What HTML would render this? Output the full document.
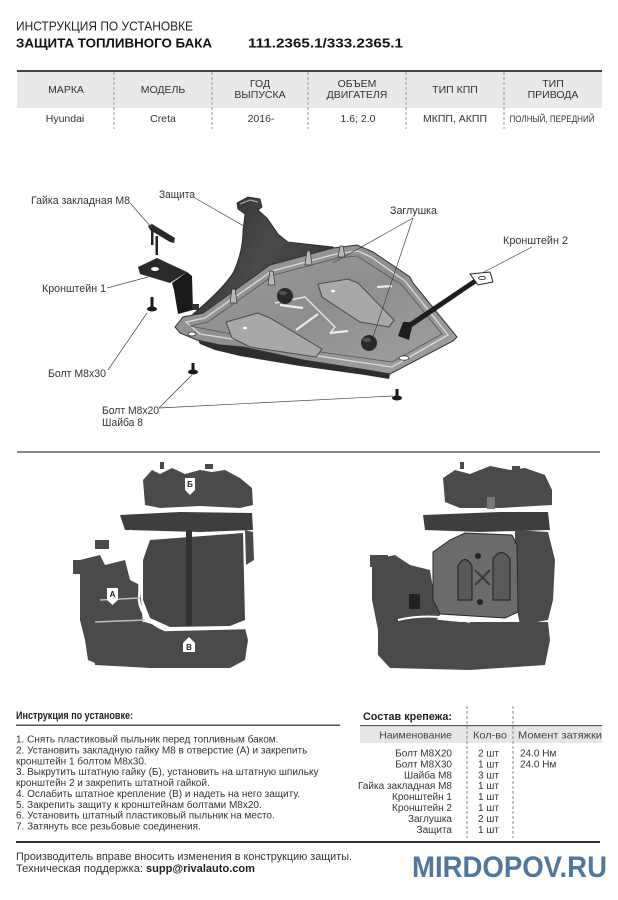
<!DOCTYPE html>
<html><head><meta charset="utf-8"><style>
html,body{margin:0;padding:0;background:#fff;}
svg{display:block;}
text{font-family:"Liberation Sans",sans-serif;}
</style></head><body>
<svg width="618" height="900" viewBox="0 0 618 900" xmlns="http://www.w3.org/2000/svg">
<rect width="618" height="900" fill="#fff"/>
<defs>
<linearGradient id="wallG" x1="0" y1="0" x2="1" y2="0.4">
<stop offset="0" stop-color="#2a2a2a"/><stop offset="0.6" stop-color="#4a4a4a"/><stop offset="1" stop-color="#3a3a3a"/>
</linearGradient>
<linearGradient id="plateG" x1="0" y1="0" x2="1" y2="1">
<stop offset="0" stop-color="#9c9c9c"/><stop offset="0.5" stop-color="#8e8e8e"/><stop offset="1" stop-color="#a2a2a2"/>
</linearGradient>
</defs>

<!-- HEADER -->
<text x="16" y="30.5" font-size="12.5" fill="#222" textLength="177" lengthAdjust="spacingAndGlyphs">ИНСТРУКЦИЯ ПО УСТАНОВКЕ</text>
<text x="16" y="47.5" font-size="13" font-weight="bold" fill="#111" textLength="196" lengthAdjust="spacingAndGlyphs">ЗАЩИТА ТОПЛИВНОГО БАКА</text>
<text x="248" y="47.5" font-size="13" font-weight="bold" fill="#111" textLength="155" lengthAdjust="spacingAndGlyphs">111.2365.1/333.2365.1</text>

<rect x="17" y="72" width="585" height="36" fill="#e9e9e9"/>
<rect x="17" y="70" width="585" height="2" fill="#444"/>
<g stroke="#999" stroke-width="1" stroke-dasharray="3 2">
<line x1="114" y1="72" x2="114" y2="129"/>
<line x1="212" y1="72" x2="212" y2="129"/>
<line x1="308" y1="72" x2="308" y2="129"/>
<line x1="406" y1="72" x2="406" y2="129"/>
<line x1="504" y1="72" x2="504" y2="129"/>
</g>
<g font-size="10.5" fill="#333" text-anchor="middle">
<text x="66" y="93">МАРКА</text>
<text x="163" y="93">МОДЕЛЬ</text>
<text x="260" y="87">ГОД</text>
<text x="260" y="98">ВЫПУСКА</text>
<text x="357" y="87">ОБЪЕМ</text>
<text x="357" y="98">ДВИГАТЕЛЯ</text>
<text x="455" y="93">ТИП КПП</text>
<text x="553" y="87">ТИП</text>
<text x="553" y="98">ПРИВОДА</text>
<text x="65" y="122">Hyundai</text>
<text x="163" y="122">Creta</text>
<text x="261" y="122">2016-</text>
<text x="358" y="122">1.6; 2.0</text>
<text x="455" y="122">МКПП, АКПП</text>
<text x="552" y="122" font-size="9.5" textLength="85" lengthAdjust="spacingAndGlyphs">ПОЛНЫЙ, ПЕРЕДНИЙ</text>
</g>

<!-- DIAGRAM -->
<path d="M237,203 L248,197 L260,199 L262,207 L258,210 L267,218 L278,234 L288,242 L333,247 L336,252 L270,266 L203,313 L193,314 Q222,290 233,273 Q243,252 243,230 L245,214 L238,209 Z" fill="url(#wallG)" stroke="#222" stroke-width="0.8"/>
<path d="M240,204 L250,200 L258,202" stroke="#aaa" stroke-width="1.2" fill="none"/>
<path d="M198,340 L243,347 L303,360 L367,370 L390,374 L389,379 L365,375 L300,366 L240,356 L215,350 L200,344 Z" fill="#2e2e2e"/>
<path d="M175,327 L183,317 L203,313 L270,265 L333,248 L342,247 L357,245 L373,252 L410,277 L413,283 L457,337 L453,341 L390,374 L367,370 L303,360 L243,347 L220,345 L197,340 L180,333 Z" fill="url(#plateG)" stroke="#333" stroke-width="1"/>
<path d="M186,322 L205,318 L272,271 L336,254 L358,251 L371,257 L405,281 L448,335 L392,367 L305,354 L245,341 L200,334 Z" fill="none" stroke="#dcdcdc" stroke-width="1.3"/>
<path d="M190,326 L208,322 L274,275 L338,258 L357,256 L402,285 L442,334 L392,362 L306,350 L247,337 Z" fill="none" stroke="#555" stroke-width="0.8"/>
<path d="M226,322 L258,313 L270,318 L322,349 L316,357 L250,347 L232,338 Z" fill="#a8a8a8" stroke="#4a4a4a" stroke-width="1"/>
<path d="M318,284 L348,279 L358,283 L394,320 L389,327 L360,322 L322,297 Z" fill="#a8a8a8" stroke="#4a4a4a" stroke-width="1"/>
<path d="M275,303 L305,297 L335,327 L330,333" fill="none" stroke="#e2e2e2" stroke-width="1.5"/>
<path d="M280,305 L303,308 M330,333 L348,331 M377,287 L392,286 M296,330 L318,314" stroke="#ececec" stroke-width="2.2"/>
<ellipse cx="245" cy="328" rx="2" ry="1.3" fill="#fff"/>
<ellipse cx="333" cy="291" rx="2" ry="1.3" fill="#fff"/>
<ellipse cx="192" cy="334" rx="4" ry="2" fill="#fff" stroke="#333" stroke-width="0.8"/>
<ellipse cx="404" cy="358" rx="5" ry="2.2" fill="#fff" stroke="#333" stroke-width="0.8"/>
<g fill="#b8b8b8" stroke="#333" stroke-width="0.7">
<path d="M230,303 L232,289 L235,289 L237,303 Z"/>
<path d="M268,285 L270,271 L273,271 L275,285 Z"/>
<path d="M305,265 L307,251 L310,251 L312,265 Z"/>
<path d="M338,257 L340,246 L343,246 L345,257 Z"/>
</g>
<circle cx="285" cy="296" r="8" fill="#2a2a2a"/>
<ellipse cx="283" cy="293" rx="4" ry="2" fill="#555"/>
<circle cx="369" cy="343" r="8" fill="#2a2a2a"/>
<ellipse cx="367" cy="340" rx="4" ry="2" fill="#555"/>
<path d="M398,336 L403,322 L410,322 L474,279 L478,282 L412,327 L409,340 Z" fill="#1e1e1e"/>
<path d="M470,274 L490,272 L493,282 L478,285 Z" fill="#fff" stroke="#222" stroke-width="1"/>
<ellipse cx="482" cy="278" rx="3.5" ry="1.6" fill="#fff" stroke="#222" stroke-width="0.8"/>
<path d="M138,267 L157,258 L187,272 L170,283 L140,274 Z" fill="#2a2a2a"/>
<ellipse cx="155" cy="269" rx="4" ry="2" fill="#fff"/>
<path d="M172,283 L187,272 L192,276 L193,310 L178,314 L174,290 Z" fill="#1a1a1a"/>
<rect x="192" y="304" width="7" height="6" fill="#333"/>
<path d="M148,226 L152,224 L175,238 L174,243 L170,242 L150,230 Z" fill="#2a2a2a"/>
<rect x="151" y="229" width="2.5" height="16" fill="#222"/>
<rect x="155.5" y="236" width="2.5" height="19" fill="#222"/>
<g fill="#1a1a1a">
<rect x="150.5" y="297" width="3" height="11"/><ellipse cx="152" cy="309" rx="5" ry="2.5"/>
<rect x="191.5" y="363" width="3" height="9"/><ellipse cx="193" cy="372" rx="5" ry="2.5"/>
<rect x="395.5" y="389" width="3" height="9"/><ellipse cx="397" cy="398" rx="5" ry="2.5"/>
</g>
<g stroke="#444" stroke-width="0.7" fill="none">
<path d="M130,203 L152,228"/>
<path d="M195,198 L263,237"/>
<path d="M107,288 L148,277"/>
<path d="M108,370 L147,313"/>
<path d="M159,408 L192,375"/>
<path d="M159,408 L393,396"/>
<path d="M413,218 L333,263"/>
<path d="M413,218 L373,337"/>
<path d="M532,247 L482,273"/>
</g>
<g font-size="11" fill="#333">
<text x="31" y="204" textLength="99" lengthAdjust="spacingAndGlyphs">Гайка закладная M8</text>
<text x="159" y="198" textLength="36" lengthAdjust="spacingAndGlyphs">Защита</text>
<text x="390" y="214" textLength="47" lengthAdjust="spacingAndGlyphs">Заглушка</text>
<text x="503" y="244" textLength="65" lengthAdjust="spacingAndGlyphs">Кронштейн 2</text>
<text x="42" y="292" textLength="64" lengthAdjust="spacingAndGlyphs">Кронштейн 1</text>
<text x="48" y="377" textLength="58" lengthAdjust="spacingAndGlyphs">Болт M8x30</text>
<text x="102" y="414" textLength="57" lengthAdjust="spacingAndGlyphs">Болт M8x20</text>
<text x="102" y="426" textLength="41" lengthAdjust="spacingAndGlyphs">Шайба 8</text>
</g>

<rect x="17" y="451" width="583" height="2" fill="#888"/>

<!-- LEFT PHOTO -->
<g fill="#4a4a4a">
<path d="M143,480 L152,470 L160,474 L172,468 L185,474 L200,470 L212,472 L225,470 L240,478 L252,488 L253,505 L240,508 L200,506 L160,508 L145,505 Z"/>
<rect x="160" y="462" width="4" height="7"/><rect x="205" y="464" width="8" height="5"/>
<path d="M120,515 L180,512 L252,513 L253,530 L200,532 L125,530 Z" fill="#3e3e3e"/>
<path d="M150,540 L243,533 L245,620 L230,626 L170,627 L150,618 L143,600 L143,560 Z" fill="#464646"/>
<rect x="186" y="530" width="6" height="96" fill="#333"/>
<path d="M80,560 L100,555 L105,565 L125,560 L130,580 L140,585 L143,625 L135,640 L120,655 L100,665 L88,660 L85,640 L80,620 Z"/>
<rect x="73" y="560" width="25" height="14"/><rect x="95" y="540" width="14" height="9"/>
<path d="M92,625 L145,622 L170,630 L245,628 L248,640 L245,660 L230,668 L150,668 L95,665 Z"/>
<path d="M245,530 L253,532 L254,560 L246,565 Z"/>
</g>
<path d="M130,530 Q142,560 139,600 Q141,620 165,630 L245,628" stroke="#fff" stroke-width="2.5" fill="none"/>
<path d="M100,600 L140,598 M95,622 L145,620" stroke="#bbb" stroke-width="1.5" fill="none"/>
<g font-size="8" font-weight="bold" fill="#222" text-anchor="middle">
<path d="M185,478 L195,478 L195,490 L190,495 L185,490 Z" fill="#fff"/><text x="190" y="487">Б</text>
<path d="M107,588 L118,588 L118,600 L112.5,605 L107,600 Z" fill="#fff"/><text x="112.5" y="597">А</text>
<path d="M183,643 L189,637 L195,643 L195,652 L183,652 Z" fill="#fff"/><text x="189" y="650">В</text>
</g>

<!-- RIGHT PHOTO -->
<g fill="#4a4a4a">
<path d="M443,478 L455,470 L470,474 L490,466 L510,470 L525,468 L545,475 L552,490 L552,505 L500,508 L460,508 L445,502 Z"/>
<rect x="460" y="462" width="4" height="7"/><rect x="512" y="466" width="8" height="5"/>
<path d="M423,515 L500,512 L548,512 L550,530 L480,532 L425,530 Z" fill="#3e3e3e"/>
<path d="M515,530 L548,532 L555,560 L553,600 L548,620 L520,625 L515,600 Z"/>
<path d="M372,560 L395,555 L410,565 L430,570 L435,600 L440,615 L430,630 L420,640 L395,640 L378,630 L372,600 Z"/>
<rect x="370" y="555" width="18" height="12"/>
<path d="M378,622 L420,618 L460,622 L548,622 L550,640 L545,665 L470,670 L390,668 L378,655 Z"/>
</g>
<rect x="487" y="497" width="8" height="12" fill="#777"/>
<path d="M433,552 L450,540 L465,533 L512,535 L517,545 L518,612 L505,618 L440,614 L433,600 Z" fill="#6b6b6b" stroke="#2a2a2a" stroke-width="1"/>
<path d="M458,600 L458,566 Q465,553 472,566 L472,600 Z" fill="#5a5a5a" stroke="#2a2a2a" stroke-width="1.2"/>
<path d="M493,600 L493,559 Q501,546 510,559 L510,600 Z" fill="#5a5a5a" stroke="#2a2a2a" stroke-width="1.2"/>
<path d="M475,570 L490,585 M490,570 L475,585" stroke="#3a3a3a" stroke-width="2"/>
<circle cx="478" cy="556" r="3" fill="#222"/><circle cx="480" cy="602" r="3" fill="#222"/>
<rect x="409" y="594" width="11" height="15" fill="#222"/>
<path d="M398,620 Q430,612 470,622" stroke="#fff" stroke-width="2" fill="none"/>

<!-- INSTRUCTIONS -->
<text x="16" y="719" font-size="11" font-weight="bold" fill="#222" textLength="117" lengthAdjust="spacingAndGlyphs">Инструкция по установке:</text>
<rect x="16" y="724.5" width="324" height="1.5" fill="#555"/>
<g font-size="10" fill="#333">
<text x="16" y="742.5">1. Снять пластиковый пыльник перед топливным баком.</text>
<text x="16" y="753.4">2. Установить закладную гайку М8 в отверстие (А) и закрепить</text>
<text x="16" y="764.3">кронштейн 1 болтом М8х30.</text>
<text x="16" y="775.1">3. Выкрутить штатную гайку (Б), установить на штатную шпильку</text>
<text x="16" y="786">кронштейн 2 и закрепить штатной гайкой.</text>
<text x="16" y="796.9">4. Ослабить штатное крепление (В) и надеть на него защиту.</text>
<text x="16" y="807.8">5. Закрепить защиту к кронштейнам болтами М8х20.</text>
<text x="16" y="818.6">6. Установить штатный пластиковый пыльник на место.</text>
<text x="16" y="829.5">7. Затянуть все резьбовые соединения.</text>
</g>

<!-- FASTENERS TABLE -->
<text x="363" y="720" font-size="11" font-weight="bold" fill="#222" textLength="89" lengthAdjust="spacingAndGlyphs">Состав крепежа:</text>
<rect x="360" y="726.5" width="242" height="16.5" fill="#e6e6e6"/>
<rect x="360" y="725" width="242" height="1.2" fill="#555"/>
<g stroke="#888" stroke-width="1" stroke-dasharray="3 2">
<line x1="467" y1="706" x2="467" y2="838"/>
<line x1="513" y1="706" x2="513" y2="838"/>
</g>
<g font-size="10.5" fill="#444">
<text x="452" y="738.5" text-anchor="end">Наименование</text>
<text x="473" y="738.5" textLength="34" lengthAdjust="spacingAndGlyphs">Кол-во</text>
<text x="518" y="738.5" textLength="84" lengthAdjust="spacingAndGlyphs">Момент затяжки</text>
</g>
<g font-size="10" fill="#333">
<g text-anchor="end">
<text x="452" y="756.5">Болт М8Х20</text>
<text x="452" y="767.4">Болт М8Х30</text>
<text x="452" y="778.3">Шайба М8</text>
<text x="452" y="789.2">Гайка закладная М8</text>
<text x="452" y="800.1">Кронштейн 1</text>
<text x="452" y="811">Кронштейн 2</text>
<text x="452" y="821.9">Заглушка</text>
<text x="452" y="832.8">Защита</text>
</g>
<text x="478" y="756.5">2 шт</text>
<text x="478" y="767.4">1 шт</text>
<text x="478" y="778.3">3 шт</text>
<text x="478" y="789.2">1 шт</text>
<text x="478" y="800.1">1 шт</text>
<text x="478" y="811">1 шт</text>
<text x="478" y="821.9">2 шт</text>
<text x="478" y="832.8">1 шт</text>
<text x="520" y="756.5">24.0 Нм</text>
<text x="520" y="767.4">24.0 Нм</text>
</g>

<!-- FOOTER -->
<rect x="16" y="841" width="584" height="2" fill="#333"/>
<text x="16" y="860" font-size="11" fill="#333" textLength="336" lengthAdjust="spacingAndGlyphs">Производитель вправе вносить изменения в конструкцию защиты.</text>
<text x="16" y="872" font-size="11" fill="#333" textLength="127" lengthAdjust="spacingAndGlyphs">Техническая поддержка:</text>
<text x="146" y="872" font-size="11" font-weight="bold" fill="#222" textLength="109" lengthAdjust="spacingAndGlyphs">supp@rivalauto.com</text>
<text x="412" y="877" font-size="30" font-weight="bold" fill="#52779a" textLength="195" lengthAdjust="spacingAndGlyphs">MIRDOPOV.RU</text>
</svg>
</body></html>
